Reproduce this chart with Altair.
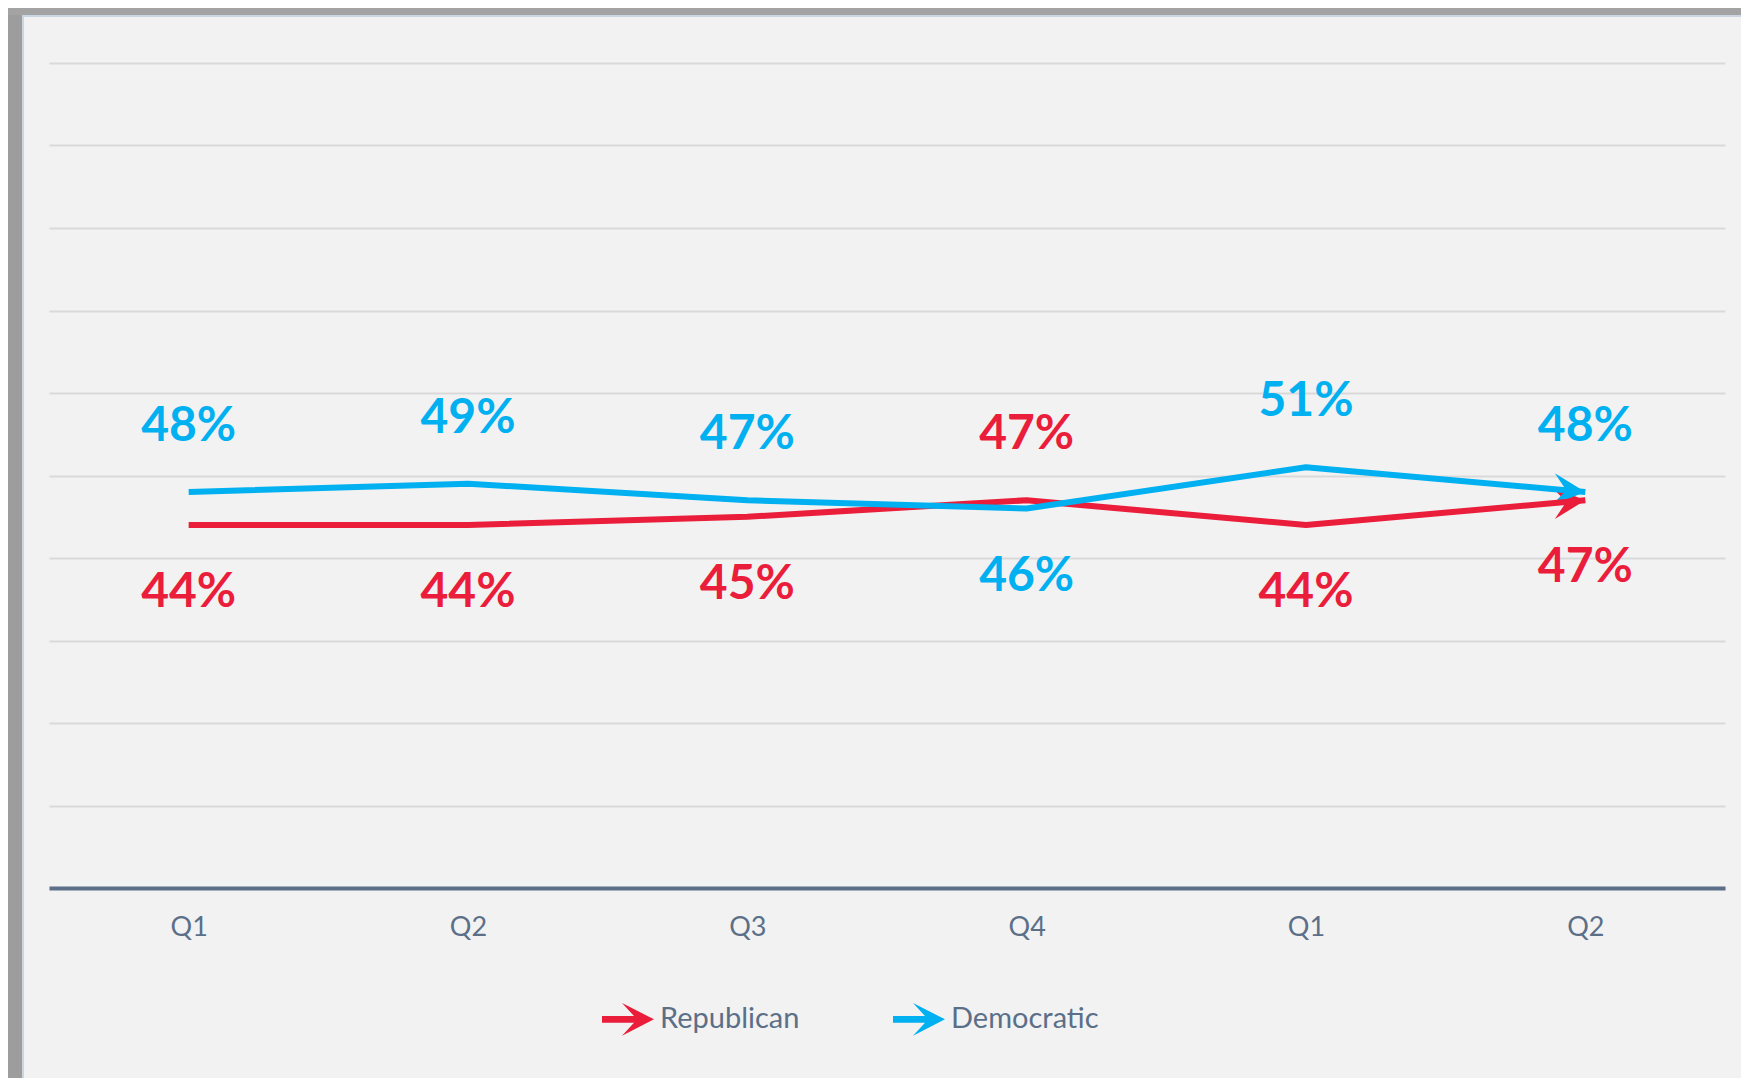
import json
import altair as alt
import pandas as pd

# ---- data ----
QUARTERS = ["Q1", "Q2", "Q3", "Q4", "Q1", "Q2"]
PARTIES = ["Republican", "Democratic"]
REPUBLICAN = [0.44, 0.44, 0.45, 0.47, 0.44, 0.47]
DEMOCRATIC = [0.48, 0.49, 0.47, 0.46, 0.51, 0.48]
COLORS = ["#EA1D3A", "#00B0F0"]

rows = []
for i, q in enumerate(QUARTERS):
    rows.append({"idx": i, "quarter": q, "party": "Republican", "value": REPUBLICAN[i]})
    rows.append({"idx": i, "quarter": q, "party": "Democratic", "value": DEMOCRATIC[i]})
df = pd.DataFrame(rows)

# ---- layout / style ----
W, H = 1676, 825
PAD = {"left": 41, "top": 55, "right": 16, "bottom": 190}
STEP = W / len(QUARTERS)
FONT = "Lato"
AXIS_COLOR = "#5b6f88"
GRID_COLOR = "#d9d9d9"
BG = "#f2f2f2"

HEAD_PATH = "M0,0 L-1,-0.5 L-0.6,0 L-1,0.5 Z"
LEGEND_ARROW = "M-1,-0.13 L0.23,-0.13 L-0.23,-0.63 L1,0 L-0.23,0.63 L0.23,0.13 L-1,0.13 Z"

legend = alt.Legend(
    title=None,
    orient="none",
    legendX=553,
    legendY=930,
    direction="horizontal",
    symbolType=LEGEND_ARROW,
    symbolSize=2704,
    symbolStrokeWidth=0,
    symbolOpacity=1,
    labelFont=FONT,
    labelFontSize=29,
    labelColor=AXIS_COLOR,
    labelOffset=6,
    columnPadding=93,
    padding=0,
)
color = alt.Color("party:N", scale=alt.Scale(domain=PARTIES, range=COLORS), legend=legend)

x = alt.X(
    "idx:O",
    scale=alt.Scale(type="point", padding=0.5),
    axis=alt.Axis(
        title=None,
        labelExpr=f"{json.dumps(QUARTERS)}[datum.value]",
        ticks=False,
        grid=False,
        labelAngle=0,
        labelFont=FONT,
        labelFontSize=27,
        labelColor=AXIS_COLOR,
        labelPadding=26,
        domainColor=AXIS_COLOR,
        domainWidth=4,
        zindex=2,
    ),
)
y = alt.Y(
    "value:Q",
    scale=alt.Scale(domain=[0, 1], nice=False),
    axis=alt.Axis(
        title=None,
        labels=False,
        ticks=False,
        domain=False,
        values=[round(i / 10, 1) for i in range(11)],
        gridColor=GRID_COLOR,
        gridWidth=2,
        minExtent=0,
    ),
)

base = alt.Chart(df)

# decorative window frame (shadow at top/left)
frame_src = alt.Chart(pd.DataFrame({"k": [0]}))
left_shadow = frame_src.mark_rect(color="#9d9d9d").encode(
    x=alt.value(-PAD["left"]), x2=alt.value(-PAD["left"] + 14),
    y=alt.value(-PAD["top"]), y2=alt.value(H + PAD["bottom"]),
)
top_shadow = frame_src.mark_rect(color="#a3a3a3").encode(
    x=alt.value(-PAD["left"]), x2=alt.value(W + PAD["right"]),
    y=alt.value(-PAD["top"]), y2=alt.value(-PAD["top"] + 7),
)
left_edge = frame_src.mark_rect(color="#c9d5e2").encode(
    x=alt.value(-PAD["left"] + 14), x2=alt.value(-PAD["left"] + 16),
    y=alt.value(-PAD["top"] + 7), y2=alt.value(H + PAD["bottom"]),
)
top_edge = frame_src.mark_rect(color="#c9d5e2").encode(
    x=alt.value(-PAD["left"] + 14), x2=alt.value(W + PAD["right"]),
    y=alt.value(-PAD["top"] + 7), y2=alt.value(-PAD["top"] + 9),
)

heads = (
    base.transform_window(prev="lag(value)", groupby=["party"], sort=[alt.SortField("idx")])
    .transform_filter(f"datum.idx == {len(QUARTERS) - 1}")
    .transform_calculate(
        angle=f"(360 + atan2(-(datum.value - datum.prev) * {H}, {STEP}) * 180 / PI) % 360"
    )
    .mark_point(shape=HEAD_PATH, filled=True, size=4096, opacity=1, strokeWidth=0)
    .encode(
        x=x,
        y=y,
        angle=alt.Angle("angle:Q", scale=None),
        color=color,
    )
)

lines = base.mark_line(strokeWidth=6, strokeJoin="round", strokeCap="butt").encode(
    x=x, y=y, color=color,
)

lab_base = base.transform_joinaggregate(top="max(value)", groupby=["idx"])
text_enc = dict(
    x=x,
    y=y,
    text=alt.Text("value:Q", format=".0%"),
    color=color,
)
upper = lab_base.transform_filter("datum.value >= datum.top").mark_text(
    dy=-65, font=FONT, fontSize=48, fontWeight="bold", baseline="middle", align="center"
).encode(**text_enc)
lower = lab_base.transform_filter("datum.value < datum.top").mark_text(
    dy=68, font=FONT, fontSize=48, fontWeight="bold", baseline="middle", align="center"
).encode(**text_enc)

chart = (
    alt.layer(left_shadow, top_shadow, left_edge, top_edge, heads, lines, upper, lower)
    .properties(
        width=W,
        height=H,
        padding=PAD,
        autosize=alt.AutoSizeParams(type="none"),
        background=BG,
    )
    .configure_view(stroke=None)
)

chart.save("out.html", embed_options={"renderer": "svg", "actions": False})
